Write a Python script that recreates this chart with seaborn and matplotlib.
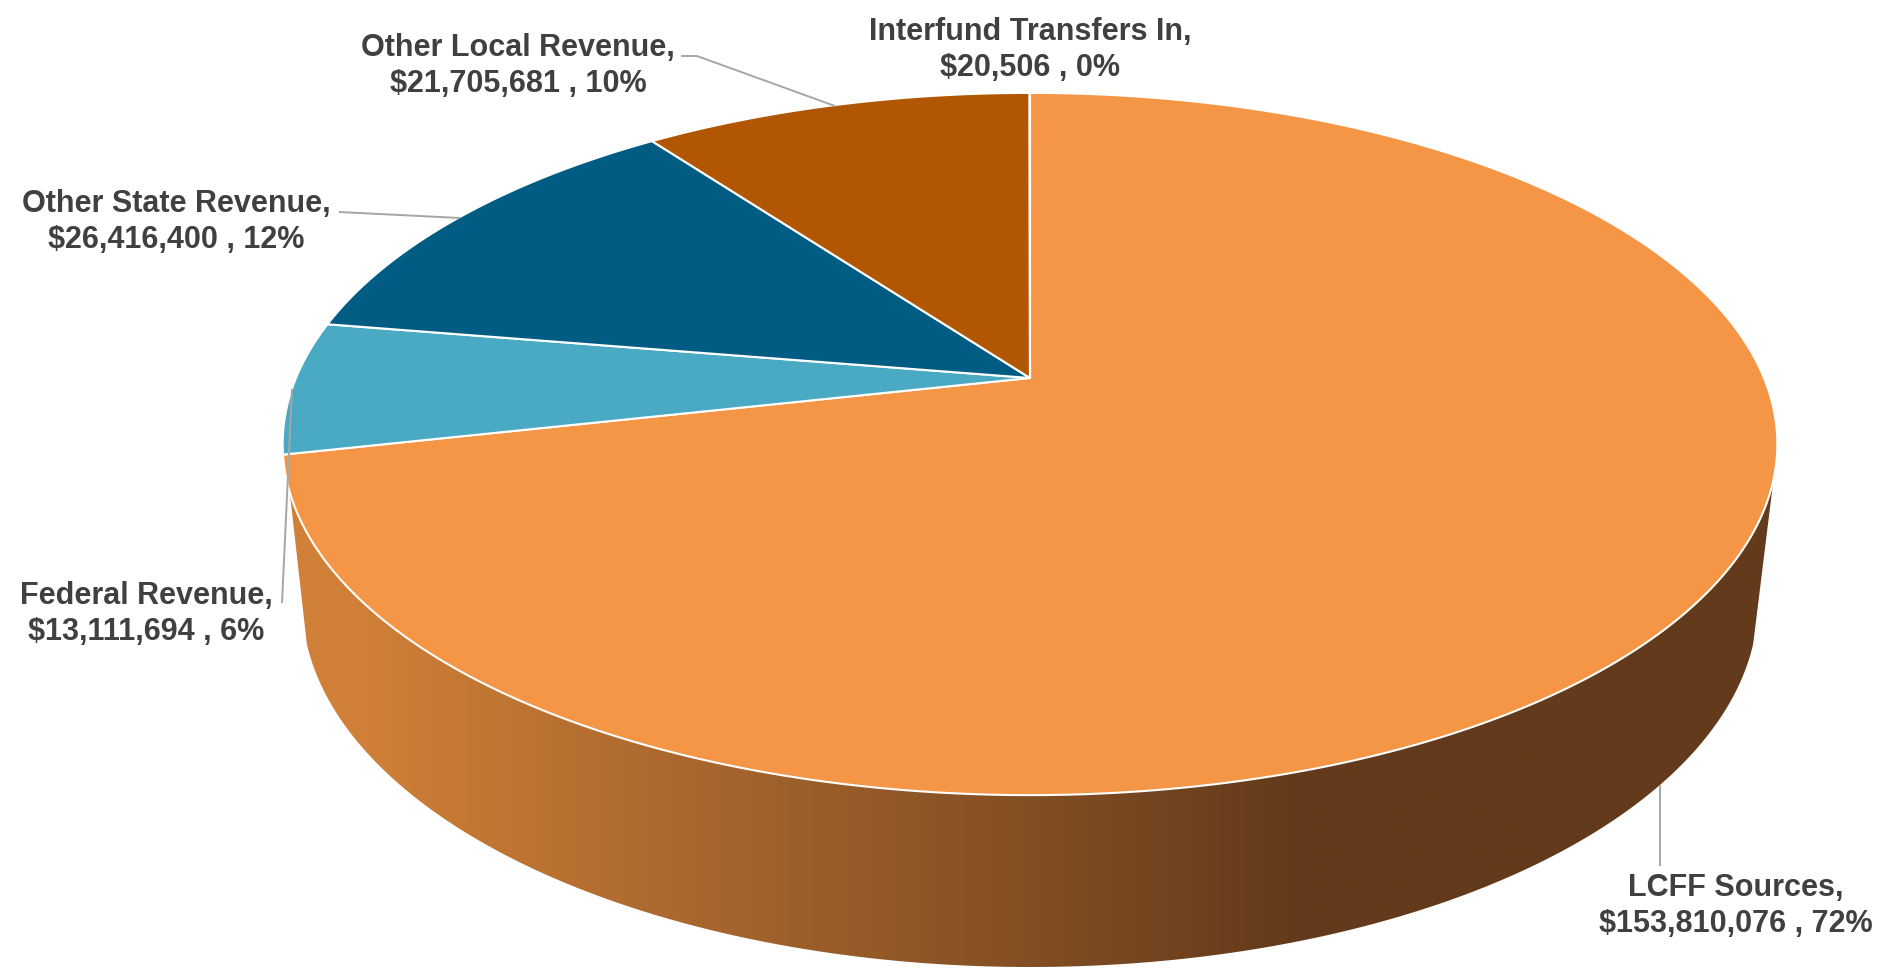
import numpy as np
import matplotlib
matplotlib.use("Agg")
import matplotlib.pyplot as plt
from matplotlib.colors import LinearSegmentedColormap
from matplotlib.patches import Polygon
import seaborn as sns

# Revenue by source, in dollars, clockwise from twelve o'clock
categories = ["LCFF Sources", "Federal Revenue", "Other State Revenue",
              "Other Local Revenue", "Interfund Transfers In"]
revenue = [153810076, 13111694, 26416400, 21705681, 20506]
slice_colors = ["#F49646", "#4AA9C3", "#005C82", "#B15603", "#7F7F7F"]

sns.set_theme(style="white")
plt.rcParams["font.family"] = ["Liberation Sans", "DejaVu Sans"]
palette = sns.color_palette(slice_colors)

W, H = 1902, 979
fig = plt.figure(figsize=(W / 100, H / 100), dpi=100, facecolor="white")
ax = fig.add_axes([0, 0, 1, 1])

# Perspective disc: the hub sits above the centre of the projected ellipse
HUB_X, HUB_Y = 1030.0, 379.0
RX, RY, PERSP = 734.0, 338.7, 0.188


def rim(angle_deg):
    """Top-rim position for an angle measured clockwise from twelve o'clock."""
    t = np.radians(90.0 - np.asarray(angle_deg, dtype=float))
    w = 1.0 + PERSP * np.sin(t)
    return HUB_X + RX * np.cos(t) / w, HUB_Y - RY * np.sin(t) / w


# Side wall: shaded band between the front of the top rim and the base ellipse,
# with straight flanks running down to where the base curve begins
BASE_RX, BASE_RY, BASE_Y = 728.0, 365.0, 603.0
WALL_START, WALL_END = 106.5, 251.5
top_x, top_y = rim(np.linspace(WALL_START, WALL_END, 400))
base_t = np.linspace(np.pi - 0.115, 0.115, 400)
base_x = HUB_X + BASE_RX * np.cos(base_t)
base_y = BASE_Y + BASE_RY * np.sin(base_t)
wall_outline = np.column_stack([np.r_[top_x, base_x], np.r_[top_y, base_y]])
wall = Polygon(wall_outline, closed=True, facecolor="none", edgecolor="none",
               transform=ax.transData)
ax.add_patch(wall)
wall_cmap = LinearSegmentedColormap.from_list(
    "wall", [(0.0, "#D08038"), (0.05, "#D08038"), (0.68, "#633A1B"), (1.0, "#633A1B")])
shade = np.linspace(0, 1, 512).reshape(1, -1)
img = ax.imshow(shade, cmap=wall_cmap, extent=(280, 1780, 980, 480),
                aspect="auto", zorder=1, interpolation="bilinear")
img.set_clip_path(wall)

# Top face: one wedge per revenue source, sized from its share of the total
total = sum(revenue)
edges = np.r_[0.0, np.cumsum(revenue)] / total * 360.0
for start, stop, color in zip(edges[:-1], edges[1:], palette):
    n = max(int((stop - start) * 4), 2)
    x, y = rim(np.linspace(start, stop, n))
    ax.fill(np.r_[HUB_X, x], np.r_[HUB_Y, y], facecolor=color,
            edgecolor="white", linewidth=1.5, joinstyle="round", zorder=2)

# Leader lines from labels to their slices
leaders = [
    ([1660, 1660], [786, 867]),
    ([292, 282], [390, 604]),
    ([339, 460], [213, 219]),
    ([681, 697, 835], [57, 57, 107]),
]
for lx, ly in leaders:
    ax.plot(lx, ly, color="#A6A6A6", linewidth=1.4, zorder=3,
            solid_capstyle="butt")

# Data labels: name, dollar amount and rounded share
label_positions = [(1736, 904), (146, 612), (176, 220), (518, 64), (1030, 48)]
for name, value, (px, py) in zip(categories, revenue, label_positions):
    share = value / total * 100
    ax.text(px, py + 2, f"{name},\n${value:,} , {share:.0f}%", ha="center",
            va="center", fontsize=22, fontweight="bold", color="#404040",
            linespacing=1.28, zorder=4)

ax.set_xlim(0, W)
ax.set_ylim(H, 0)
ax.axis("off")
fig.savefig("out.png", dpi=100, facecolor="white")
